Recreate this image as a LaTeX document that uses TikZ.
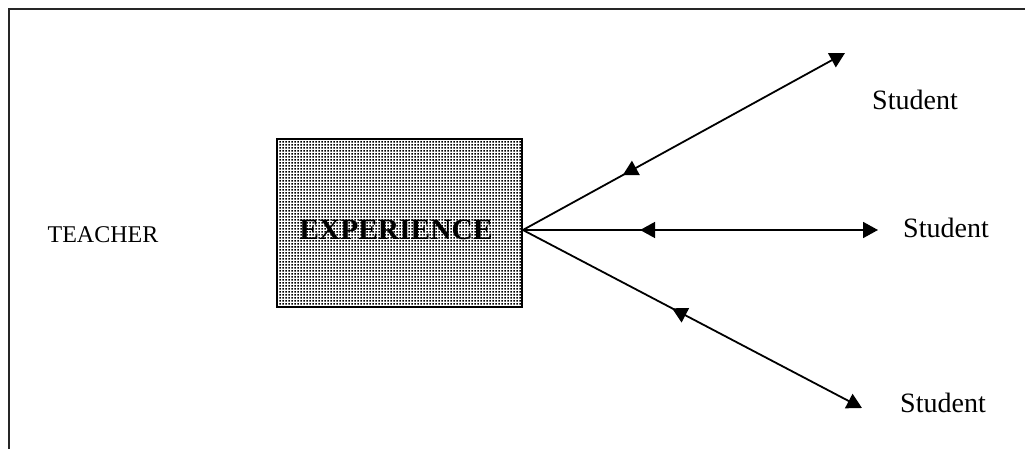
\documentclass[tikz,border=0pt]{standalone}
\usepackage{fontspec}
\setmainfont{Liberation Serif}
\usetikzlibrary{arrows.meta,calc,decorations.markings,patterns.meta}

% square-dot screen for the experience box
\pgfdeclarepattern{
  name=densedots,
  type=uncolored,
  bottom left={\pgfpoint{0pt}{0pt}},
  top right={\pgfpoint{3pt}{3pt}},
  tile size={\pgfpoint{3pt}{3pt}},
  code={\pgfpathrectangle{\pgfpoint{0.5pt}{0.5pt}}{\pgfpoint{2pt}{2pt}}\pgfusepath{fill}}
}

\tikzset{
  frameline/.style={line width=2pt, black!85},
  expbox/.style={draw, line width=1.8pt, pattern={densedots}, pattern color=black,
    minimum width=245pt, minimum height=168pt, inner sep=0pt},
  plain/.style={font=\fontsize{28}{30}\selectfont, anchor=base, inner sep=0pt},
  teachtxt/.style={font=\fontsize{24}{26}\selectfont, anchor=base, inner sep=0pt},
  exptxt/.style={font=\bfseries\fontsize{29.5}{31}\selectfont, anchor=base, inner sep=0pt},
  link/.style={line width=1.8pt, -{Triangle[length=15pt,width=16pt]}},
  midtip/.style={postaction={decorate}, decoration={markings,
    mark=at position #1 with {\arrowreversed{Triangle[length=15pt,width=16pt]}}}}
}

\begin{document}
\begin{tikzpicture}[x=1pt, y=-1pt]
  \useasboundingbox (0,0) rectangle (1025,449);

  % open frame: top and left edges
  \draw[frameline] (9,449) -- (9,9) -- (1025,9);

  \node[teachtxt] (teacher) at (103,242) {TEACHER};

  \node[expbox] (exp) at (399.5,223) {};
  \node[exptxt] (exptext) at (396,240) {EXPERIENCE};

  \coordinate (hub) at ($(exp.east)+(0,7)$);
  \coordinate (tu) at (845,53);
  \coordinate (tm) at (878,230);
  \coordinate (tl) at (862,408);

  \node[plain] (s1) at (915,110) {Student};
  \node[plain] (s2) at (946,237) {Student};
  \node[plain] (s3) at (943,412) {Student};

  \draw[link, midtip=0.31] (hub) -- (tu);
  \draw[link, midtip=0.33] (hub) -- (tm);
  \draw[link, midtip=0.44] (hub) -- (tl);
\end{tikzpicture}
\end{document}
